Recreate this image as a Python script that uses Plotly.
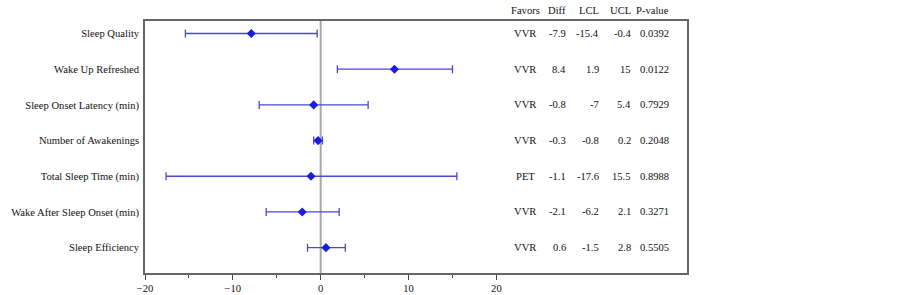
import plotly.graph_objects as go

categories = ["Sleep Quality", "Wake Up Refreshed", "Sleep Onset Latency (min)",
              "Number of Awakenings", "Total Sleep Time (min)",
              "Wake After Sleep Onset (min)", "Sleep Efficiency"]
favors = ["VVR", "VVR", "VVR", "VVR", "PET", "VVR", "VVR"]
diff = [-7.9, 8.4, -0.8, -0.3, -1.1, -2.1, 0.6]
lcl = [-15.4, 1.9, -7, -0.8, -17.6, -6.2, -1.5]
ucl = [-0.4, 15, 5.4, 0.2, 15.5, 2.1, 2.8]
pvalue = ["0.0392", "0.0122", "0.7929", "0.2048", "0.8988", "0.3271", "0.5505"]
x_ticks = [-20, -10, 0, 10, 20]
headers = ["Favors", "Diff", "LCL", "UCL", "P-value"]

FONT = "Liberation Serif, Times New Roman, Times, serif"
FS = 10.6
ypos = list(range(len(categories)))

fig = go.Figure()
fig.add_shape(type="line", xref="x", yref="paper", x0=0, x1=0, y0=0, y1=1,
              line=dict(color="#a8a8a8", width=2), layer="below")
fig.add_trace(go.Scatter(
    x=diff, y=ypos, mode="markers",
    marker=dict(symbol="diamond", size=7, color="#1c1ce0"),
    error_x=dict(type="data", symmetric=False,
                 array=[u - d for u, d in zip(ucl, diff)],
                 arrayminus=[d - l for d, l in zip(diff, lcl)],
                 color="#4848d4", thickness=1.3, width=4),
    showlegend=False, hoverinfo="skip"))

fmt = lambda v: ("%g" % v)
# column anchor positions (data units on x axis)
col_x = {"Favors": 23.3, "Diff": 28.1, "LCL": 31.9, "UCL": 35.6, "P-value": 39.9}
tfont = dict(family=FONT, size=FS, color="#111")
for i in ypos:
    fig.add_annotation(x=col_x["Favors"], y=i, text=favors[i], xanchor="center",
                       showarrow=False, font=tfont)
    for key, val in (("Diff", fmt(diff[i])), ("LCL", fmt(lcl[i])),
                     ("UCL", fmt(ucl[i])), ("P-value", pvalue[i])):
        fig.add_annotation(x=col_x[key], y=i, text=val, xanchor="right",
                           showarrow=False, font=tfont)
for h in headers:
    fig.add_annotation(x=col_x[h], yref="paper", y=1.0, yanchor="bottom", yshift=3,
                       text=h, xanchor="center" if h == "Favors" else "right",
                       showarrow=False, font=tfont)

fig.update_layout(
    width=903, height=295,
    margin=dict(l=145, r=216, t=21, b=22),
    plot_bgcolor="white", paper_bgcolor="white",
    font=dict(family=FONT, size=FS, color="#111"),
    xaxis=dict(range=[-20, 41.7], tickvals=x_ticks, ticks="outside", ticklen=5,
               tickcolor="#444", showgrid=False, zeroline=False, automargin=False,
               showline=True, linecolor="#666", linewidth=1.5, mirror=True,
               tickfont=dict(family=FONT, size=FS),
               minor=dict(tickvals=[-15, -5, 5, 15], ticks="outside", ticklen=3,
                          tickcolor="#444")),
    yaxis=dict(range=[6.71, -0.35], tickvals=ypos, ticktext=categories, ticks="",
               showgrid=False, zeroline=False, showline=True, linecolor="#666",
               linewidth=1.5, mirror=True, ticklabelstandoff=2, automargin=False,
               tickfont=dict(family=FONT, size=FS)),
)
fig.write_html("out.html", config={"displayModeBar": False},
               post_script="document.body.style.margin='0';")
